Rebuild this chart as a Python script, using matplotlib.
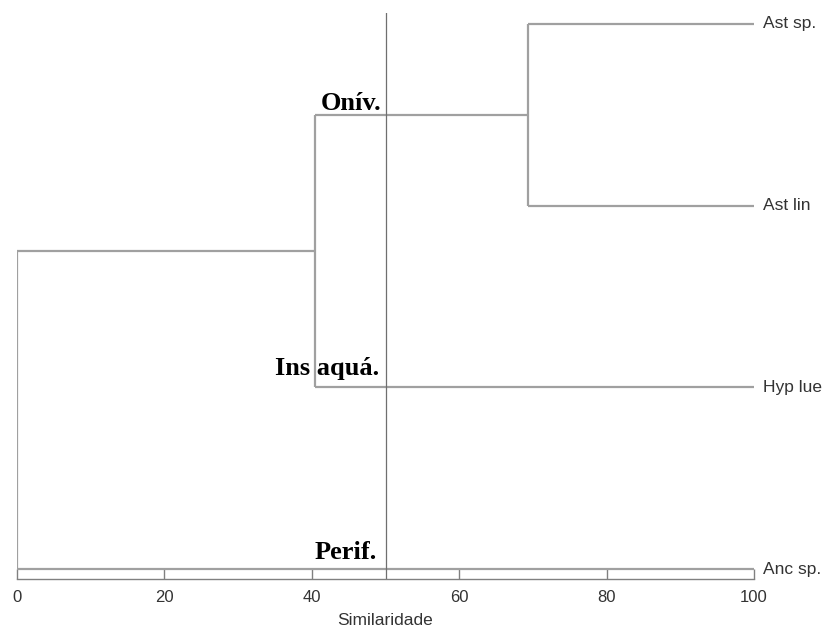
import matplotlib.pyplot as plt

leaves = ["Ast sp.", "Ast lin", "Hyp lue", "Anc sp."]
# merges: (left node, right node, similarity) ; nodes >= 4 are earlier merges
merges = [(0, 1, 69.3), (4, 2, 40.4), (5, 3, 0.0)]
group_labels = ["Onív.", "Ins aquá.", "Perif."]
group_y = [0.5, 2.0, 3.0]
cut = 50
xticks = [0, 20, 40, 60, 80, 100]

line_col = "#a0a0a0"

fig = plt.figure(figsize=(8.26, 6.28), dpi=100)
ax = fig.add_axes([17 / 826, (628 - 579) / 628, 737 / 826, (579 - 13) / 628])

# node positions: (x, y)
pos = {i: (100, i) for i in range(len(leaves))}
for k, (a, b, sim) in enumerate(merges):
    xa, ya = pos[a]
    xb, yb = pos[b]
    ax.plot([xa, sim], [ya, ya], color=line_col, lw=1.6, solid_capstyle="butt")
    ax.plot([xb, sim], [yb, yb], color=line_col, lw=1.6, solid_capstyle="butt")
    ax.plot([sim, sim], [ya, yb], color=line_col, lw=1.6, solid_capstyle="butt")
    pos[len(leaves) + k] = (sim, (ya + yb) / 2)

for i, name in enumerate(leaves):
    ax.text(101.2, i, name, ha="left", va="center", fontsize=12.5,
            color="#333333", family="Liberation Sans")

ax.axvline(cut, color="#6f6f6f", lw=0.9)

# label placement (pixel offsets left of the cut line / above the branch)
lab_dx = [-4, -6, -9]
lab_dy = [5, 12, 10]
for lab, y, dx, dy in zip(group_labels, group_y, lab_dx, lab_dy):
    ax.annotate(lab, (cut, y), xytext=(dx * 0.72, dy * 0.72),
                textcoords="offset points", ha="right", va="baseline",
                fontsize=19, fontweight="bold", family="Liberation Serif",
                color="black")

ax.set_xlim(0, 100)
ax.set_ylim(3.055, -0.06)
ax.set_xticks(xticks)
ax.set_yticks([])
for s in ["top", "left", "right"]:
    ax.spines[s].set_visible(False)
ax.spines["bottom"].set_color("#808080")
ax.spines["bottom"].set_linewidth(1.0)
ax.tick_params(axis="x", direction="in", length=7, width=1, color="#808080",
               labelsize=12, labelcolor="#333333", pad=8)
for t in ax.get_xticklabels():
    t.set_family("Liberation Sans")
ax.set_xlabel("Similaridade", fontsize=12.5, color="#333333",
              family="Liberation Sans", labelpad=6)

fig.savefig("out.png", dpi=100)
